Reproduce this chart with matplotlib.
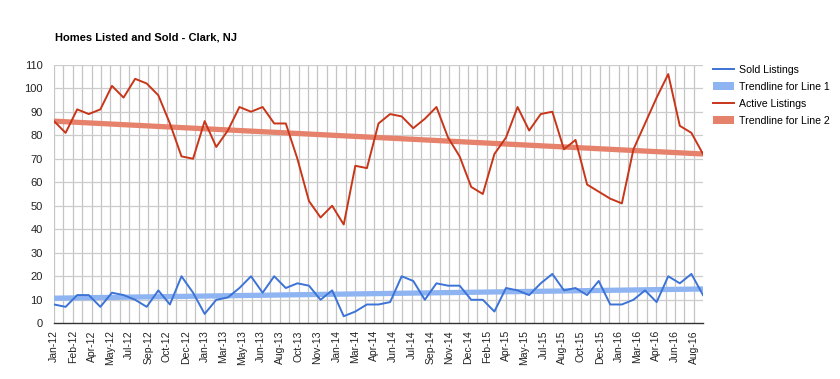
"""Homes listed and sold in Clark, NJ: monthly lines with linear trendlines."""

import matplotlib
matplotlib.use("Agg")
import matplotlib.pyplot as plt
import numpy as np
from matplotlib.lines import Line2D
from matplotlib.patches import Patch

plt.rcParams["font.family"] = ["Liberation Sans", "DejaVu Sans"]

# monthly values, Jan-12 .. Sep-16
sold = [8, 7, 12, 12, 7, 13, 12, 10, 7, 14, 8, 20, 13, 4, 10, 11, 15, 20, 13, 20,
        15, 17, 16, 10, 14, 3, 5, 8, 8, 9, 20, 18, 10, 17, 16, 16, 10, 10, 5, 15,
        14, 12, 17, 21, 14, 15, 12, 18, 8, 8, 10, 14, 9, 20, 17, 21, 12]
active = [86, 81, 91, 89, 91, 101, 96, 104, 102, 97, 85, 71, 70, 86, 75, 82, 92, 90,
          92, 85, 85, 70, 52, 45, 50, 42, 67, 66, 85, 89, 88, 83, 87, 92, 79, 71,
          58, 55, 72, 79, 92, 82, 89, 90, 74, 78, 59, 56, 53, 51, 74, 85, 96, 106,
          84, 81, 72]
tick_labels = ["Jan-12", "Feb-12", "Apr-12", "May-12", "Jul-12", "Sep-12", "Oct-12",
               "Dec-12", "Jan-13", "Mar-13", "May-13", "Jun-13", "Aug-13", "Oct-13",
               "Nov-13", "Jan-14", "Mar-14", "Apr-14", "Jun-14", "Jul-14", "Sep-14",
               "Nov-14", "Dec-14", "Feb-15", "Apr-15", "May-15", "Jul-15", "Aug-15",
               "Oct-15", "Dec-15", "Jan-16", "Mar-16", "Apr-16", "Jun-16", "Aug-16"]

SOLD_C = "#3c73d6"
SOLD_TREND_C = "#8fb4f2"
ACTIVE_C = "#c8361a"
ACTIVE_TREND_C = "#e6826c"

x = np.arange(len(sold))
tick_step = 1.624  # months between labels (date axis spacing)
ticks = np.arange(len(tick_labels)) * tick_step
grid_x = np.arange(0, x[-1] + 0.01, tick_step / 2)

fig = plt.figure(figsize=(8.4, 3.79), dpi=100)
ax = fig.add_axes([0.0643, 0.147, 0.7726, 0.6823])

for gx in grid_x:
    ax.axvline(gx, color="#c4c4c4", lw=0.9, zorder=0)
for gy in range(10, 111, 10):
    ax.axhline(gy, color="#cccccc", lw=0.9, zorder=0)

t1 = np.polyval(np.polyfit(x, sold, 1), x)
t2 = np.polyval(np.polyfit(x, active, 1), x)
ax.plot(x, t1, color=SOLD_TREND_C, lw=3.8, solid_capstyle="butt", zorder=2)
ax.plot(x, t2, color=ACTIVE_TREND_C, lw=3.8, solid_capstyle="butt", zorder=2)
ax.plot(x, sold, color=SOLD_C, lw=1.4, zorder=3)
ax.plot(x, active, color=ACTIVE_C, lw=1.4, zorder=3)

ax.set_xlim(0, x[-1])
ax.set_ylim(0, 110)
ax.set_yticks(range(0, 111, 10))
ax.set_xticks(ticks)
ax.set_xticklabels(tick_labels, rotation=90, fontsize=7.5, color="#222222")
ax.tick_params(axis="y", labelsize=8, colors="#222222", length=0, pad=8)
ax.tick_params(axis="x", length=0, pad=5)
for side in ("top", "right", "left"):
    ax.spines[side].set_visible(False)
ax.spines["bottom"].set_color("#333333")
ax.spines["bottom"].set_linewidth(1.0)

fig.text(55 / 840, 1 - 38 / 379, "Homes Listed and Sold - Clark, NJ",
         fontsize=8, fontweight="bold", color="#000000", va="center")

handles = [Line2D([], [], color=SOLD_C, lw=1.4),
           Patch(facecolor=SOLD_TREND_C, edgecolor="none"),
           Line2D([], [], color=ACTIVE_C, lw=1.4),
           Patch(facecolor=ACTIVE_TREND_C, edgecolor="none")]
labels = ["Sold Listings", "Trendline for Line 1", "Active Listings",
          "Trendline for Line 2"]
fig.legend(handles, labels, loc="upper left", bbox_to_anchor=(713 / 840, 1 - 65 / 379),
           frameon=False, fontsize=7.6, handlelength=2.0, handleheight=0.8,
           handletextpad=0.5, labelspacing=0.66, borderaxespad=0, borderpad=0)

fig.savefig("out.png", dpi=100)
